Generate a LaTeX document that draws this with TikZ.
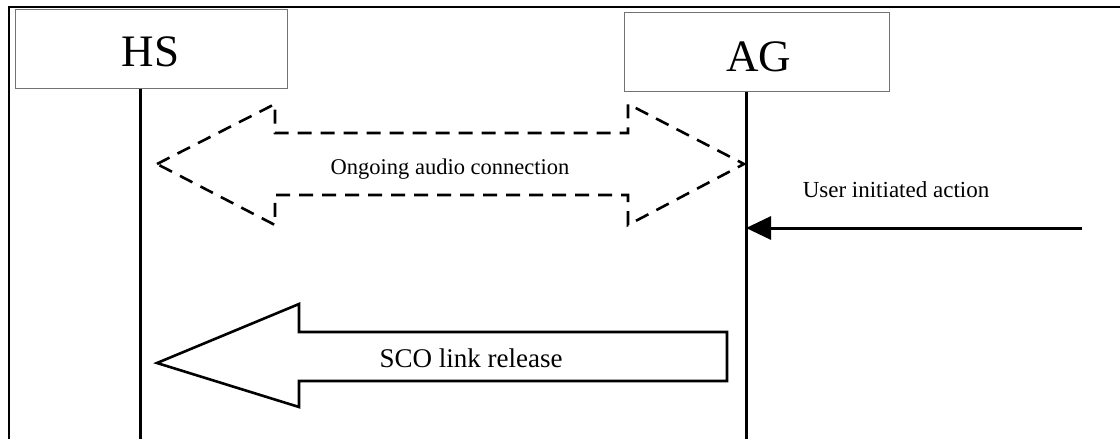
\documentclass[tikz,border=0pt]{standalone}
\usepackage{fontspec}
\setmainfont{Liberation Serif}
\usetikzlibrary{arrows.meta}
\begin{document}
\begin{tikzpicture}[x=1pt,y=-1pt,
  entity/.style={draw=black!55,line width=1pt,fill=white,inner sep=0pt},
  lifeline/.style={line width=3pt},
  frameline/.style={line width=2.2pt},
  dashedarrow/.style={line width=2.6pt,dash pattern=on 14pt off 9pt,line join=miter},
  bigarrow/.style={line width=2.6pt,line join=miter},
  lbl/.style={inner sep=0pt,anchor=base},
  msg/.style={line width=3pt,-{Triangle[length=25pt,width=23pt]}}]
\useasboundingbox (0,0) rectangle (1120,439);
% frame
\draw[frameline] (9,439) -- (9,7) -- (1120,7);
% entities
\node[entity,minimum width=272pt,minimum height=79pt] (HS) at (151,48.5) {};
\node[lbl,font=\fontsize{45}{50}\selectfont] (HSt) at (150.5,66) {HS};
\node[entity,minimum width=265pt,minimum height=79pt] (AG) at (756.5,51.5) {};
\node[lbl,font=\fontsize{45}{50}\selectfont] (AGt) at (759,71) {AG};
% lifelines
\coordinate (hsb) at (140,439);
\coordinate (agb) at (746,439);
\draw[lifeline] (hsb |- HS.south) -- (hsb);
\draw[lifeline] (agb |- AG.south) -- (agb);
% ongoing audio connection
\draw[dashedarrow] (157,164) -- (275,104) -- (275,133) -- (628,133) -- (628,104)
  -- (744,164) -- (628,225) -- (628,195) -- (275,195) -- (275,225) -- cycle;
\node[lbl,font=\fontsize{22.5}{26}\selectfont] (ongo) at (450,174) {Ongoing audio connection};
% user initiated action
\coordinate (usr) at (1082,228);
\coordinate (agu) at (746,228);
\draw[msg] (usr) -- (agu);
\node[lbl,font=\fontsize{23}{26}\selectfont] (usrt) at (896,197) {User initiated action};
% SCO link release
\draw[bigarrow] (157,363) -- (299,304) -- (299,332) -- (727,332) -- (727,381)
  -- (299,381) -- (299,407) -- cycle;
\node[lbl,font=\fontsize{27}{30}\selectfont] (sco) at (471,367) {SCO link release};
\end{tikzpicture}
\end{document}
